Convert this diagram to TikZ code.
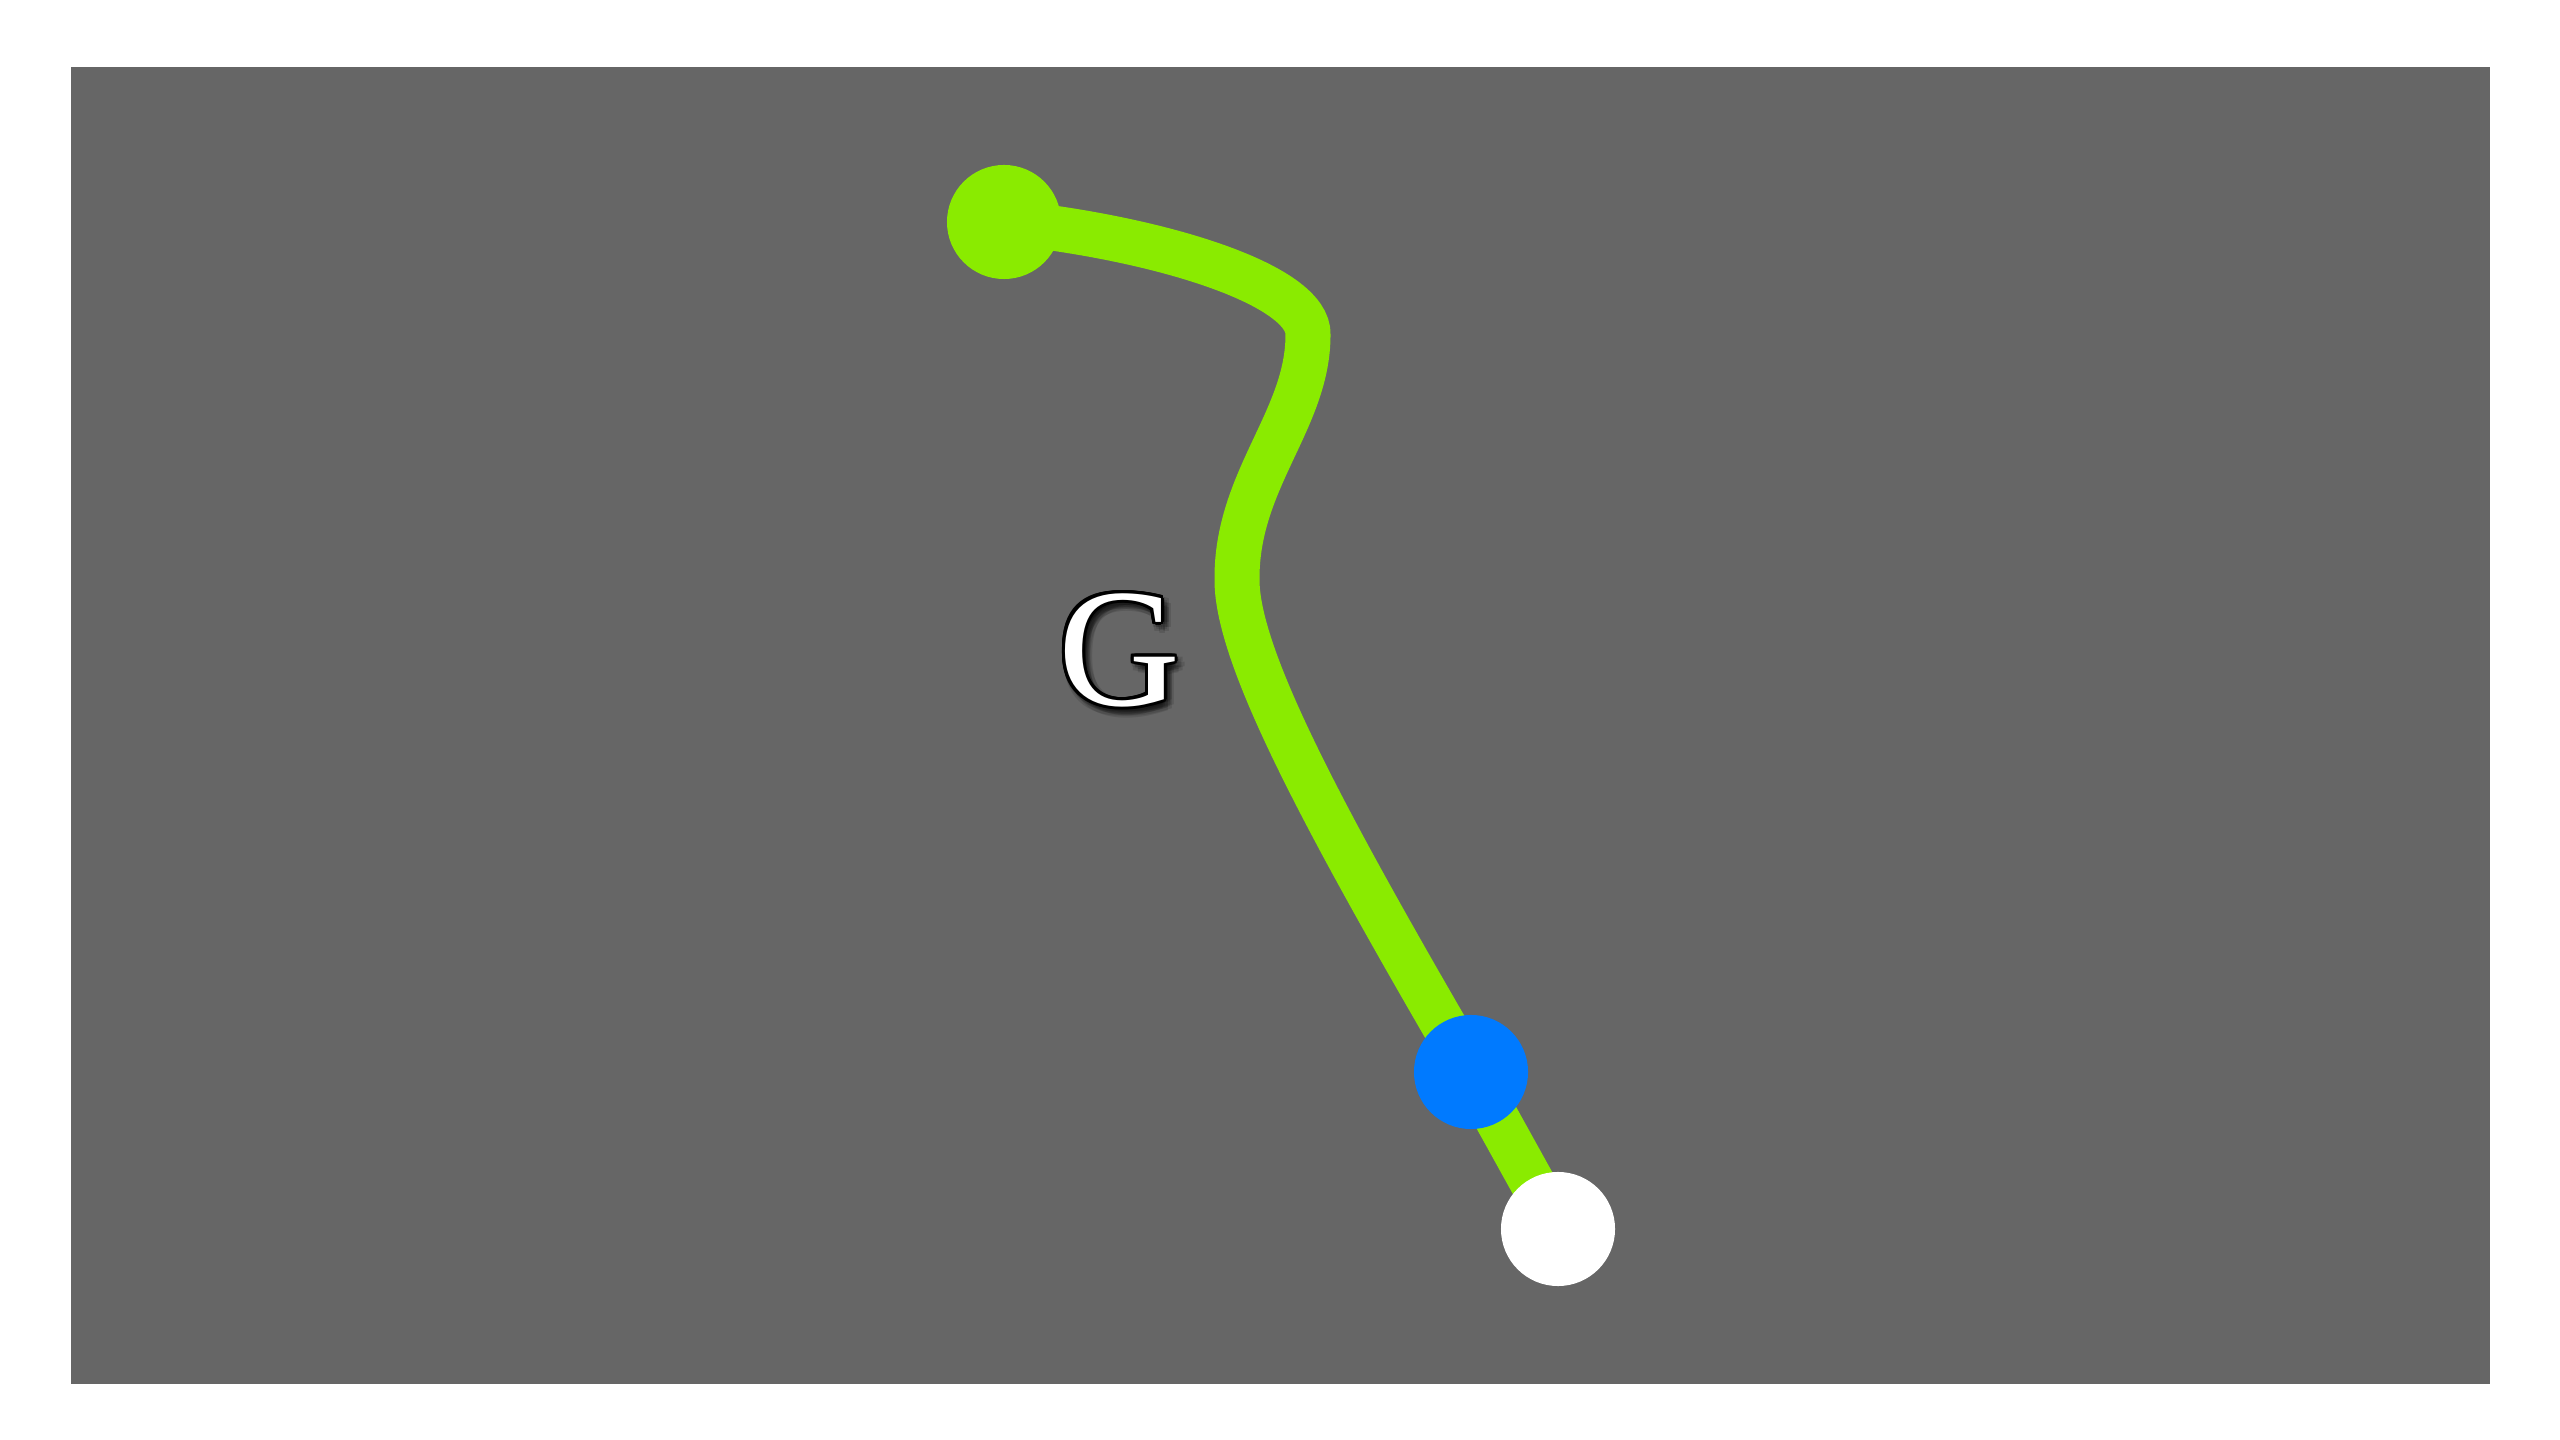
\documentclass[tikz,border=0pt]{standalone}
\usepackage{fontspec}
\setmainfont{Liberation Serif}
\usetikzlibrary{backgrounds}
\definecolor{bggrey}{HTML}{666666}
\definecolor{trailgreen}{HTML}{8AEB00}
\definecolor{dotblue}{HTML}{007AFF}
\tikzset{
    dot/.style={circle, minimum size=1.14cm, inner sep=0pt},
    bigletter/.style={font=\fontsize{48}{52}\selectfont}
}
\begin{document}
\begin{tikzpicture}[x=0.01cm, y=-0.01cm]
    \useasboundingbox (0,0) rectangle (2560,1440);
    \begin{pgfonlayer}{background}
        \fill[bggrey] (71,67) rectangle (2490,1384);
    \end{pgfonlayer}
    % Stops
    \node[dot, fill=trailgreen] (start) at (1004,222) {};
    \node[dot, fill=dotblue] (here) at (1471,1072) {};
    \node[dot, fill=white] (goal) at (1558,1229) {};
    % Trail
    \begin{pgfonlayer}{background}
        \draw[trailgreen, line width=0.45cm] (start.center) .. controls (1160,238) and (1310,285) .. (1308,335)
            .. controls (1308,420) and (1236,480) .. (1237,580)
            .. controls (1237,660) and (1330,830) .. (here.center) -- (goal.center);
    \end{pgfonlayer}
    % Label with shadow and outline
    \coordinate (gpos) at (1119,650);
    \foreach \r in {3,6} \foreach \a in {0,45,...,315}
        \node[bigletter, black, opacity=0.12] at ([shift={(\a:\r)}, shift={(4,5)}]gpos) {G};
    \foreach \a in {0,22.5,...,337.5}
        \node[bigletter, black] at ([shift={(\a:3)}]gpos) {G};
    \node[bigletter, white] (glabel) at (gpos) {G};
\end{tikzpicture}
\end{document}
